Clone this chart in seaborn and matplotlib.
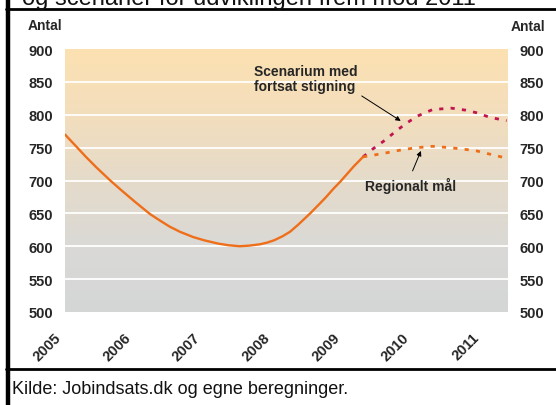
import numpy as np
import pandas as pd
import matplotlib
matplotlib.use("Agg")
import matplotlib.pyplot as plt
import matplotlib.transforms as mtransforms
from matplotlib.colors import LinearSegmentedColormap
from matplotlib.lines import Line2D
import seaborn as sns

# ---------------- data ----------------
actual_x = [2005.0, 2005.15, 2005.3, 2005.45, 2005.65, 2005.8, 2006.0, 2006.22,
            2006.35, 2006.5, 2006.65, 2006.84, 2007.0, 2007.2, 2007.35, 2007.51,
            2007.65, 2007.8, 2007.9, 2008.0, 2008.12, 2008.23, 2008.35, 2008.52,
            2008.65, 2008.75, 2008.85, 2008.95, 2009.05, 2009.15, 2009.28]
actual_y = [770, 753, 736, 720, 700, 686, 668, 649,
            640, 630, 622, 614, 609, 604, 601.5, 600,
            601, 603, 605.5, 609, 615, 622, 633, 650,
            664, 675, 687, 698, 710, 722, 736]

scen_x = [2009.28, 2009.42, 2009.59, 2009.75, 2009.9, 2010.06, 2010.28, 2010.55,
          2010.75, 2010.91, 2011.1, 2011.34]
scen_y = [736, 748, 761, 775, 787, 798, 808, 810, 807, 803, 796, 791]

reg_x = [2009.28, 2009.45, 2009.66, 2009.85, 2010.06, 2010.28, 2010.52, 2010.77,
         2010.91, 2011.14, 2011.34]
reg_y = [736, 739, 743, 747, 750, 752, 750, 747, 745, 739, 734]

year_ticks = [2005, 2006, 2007, 2008, 2009, 2010, 2011]
year_labels = ["2005", "2006", "2007", "2008", "2009", "2010", "2011"]
y_ticks = [500, 550, 600, 650, 700, 750, 800, 850, 900]
grid_vals = [550, 600, 650, 700, 750, 800, 850]

title_text = "og scenarier for udviklingen frem mod 2011"
source_text = "Kilde: Jobindsats.dk og egne beregninger."
unit_label = "Antal"
scen_label = "Scenarium med\nfortsat stigning"
reg_label = "Regionalt mål"

# ---------------- style ----------------
sns.set_style("white")
plt.rcParams["font.family"] = ["Liberation Sans", "DejaVu Sans"]

W, H = 556, 406
fig = plt.figure(figsize=(W / 100, H / 100), dpi=100)
fig.patch.set_facecolor("white")
ax = fig.add_axes([65 / W, 1 - 313 / H, (508 - 65) / W, (313 - 50) / H])

XMIN, XMAX = 2005.0, 2011.36
YMIN, YMAX = 500, 900

# background gradient
cmap = LinearSegmentedColormap.from_list(
    "bg", [(0.0, "#D4D6D7"), (0.25, "#DAD9D6"), (0.5, "#E5DBCA"),
           (0.75, "#F3DEBD"), (1.0, "#FCE1B1")])
grad = np.linspace(0, 1, 256).reshape(-1, 1)
ax.imshow(grad, extent=[XMIN, XMAX, YMIN, YMAX], origin="lower",
          aspect="auto", cmap=cmap, zorder=0, interpolation="bicubic")

for g in grid_vals:
    ax.axhline(g, color="white", lw=1.3, zorder=1)

orange = "#EE6E1A"
crimson = "#C0154E"

df_a = pd.DataFrame({"x": actual_x, "y": actual_y})
df_s = pd.DataFrame({"x": scen_x, "y": scen_y})
df_r = pd.DataFrame({"x": reg_x, "y": reg_y})

sns.lineplot(data=df_a, x="x", y="y", ax=ax, color=orange, lw=1.7,
             zorder=3, sort=False)
sns.lineplot(data=df_s, x="x", y="y", ax=ax, color=crimson, lw=2.0,
             linestyle=(0, (1.5, 2.6)), zorder=3, sort=False)
sns.lineplot(data=df_r, x="x", y="y", ax=ax, color=orange, lw=2.0,
             linestyle=(0, (1.5, 2.6)), zorder=3, sort=False)

ax.set_xlim(XMIN, XMAX)
ax.set_ylim(YMIN, YMAX)
for s in ax.spines.values():
    s.set_visible(False)
ax.set_xlabel("")
ax.set_ylabel("")

ax.set_yticks(y_ticks)
ax.set_yticklabels([str(v) for v in y_ticks], fontweight="bold", fontsize=10.5)
ax.tick_params(axis="y", left=False, right=False, labelleft=True,
               labelright=True, length=0, pad=8.5)

ax.set_xticks(year_ticks)
ax.set_xticklabels(year_labels, fontweight="bold", fontsize=10.5,
                   rotation=45, ha="right", rotation_mode="anchor")
ax.tick_params(axis="x", bottom=False, length=0, pad=13)
offset = mtransforms.ScaledTranslation(-11 / 100, 0, fig.dpi_scale_trans)
for lbl in ax.get_xticklabels():
    lbl.set_transform(lbl.get_transform() + offset)

# annotations
ax.text(2007.71, 877, scen_label, fontsize=10, fontweight="bold",
        ha="left", va="top", linespacing=1.1, zorder=5)
ax.annotate("", xy=(2009.82, 790.6), xytext=(2009.26, 828.6),
            arrowprops=dict(arrowstyle="-|>", color="black", lw=0.7,
                            mutation_scale=7, shrinkA=0, shrinkB=0), zorder=5)
ax.text(2009.30, 693, reg_label, fontsize=10, fontweight="bold",
        ha="left", va="center", zorder=5)
ax.annotate("", xy=(2010.11, 745), xytext=(2009.99, 714.6),
            arrowprops=dict(arrowstyle="-|>", color="black", lw=0.7,
                            mutation_scale=7, shrinkA=0, shrinkB=0), zorder=5)

# figure texts
fig.text(28 / W, 1 - 26 / H, unit_label, fontsize=10, fontweight="bold",
         ha="left", va="center")
fig.text(511 / W, 1 - 27 / H, unit_label, fontsize=10, fontweight="bold",
         ha="left", va="center")
fig.text(22 / W, 1 - 5 / H, title_text, fontsize=17, ha="left",
         va="baseline", color="#111111")
fig.text(12 / W, 1 - 394 / H, source_text, fontsize=13, ha="left",
         va="baseline", color="#111111")

# frame lines
fig.add_artist(Line2D([8 / W, 8 / W], [0, 1], transform=fig.transFigure,
                      color="black", lw=3.2))
fig.add_artist(Line2D([6 / W, 1], [1 - 10 / H, 1 - 10 / H],
                      transform=fig.transFigure, color="black", lw=2.0))
fig.add_artist(Line2D([6 / W, 1], [1 - 370 / H, 1 - 370 / H],
                      transform=fig.transFigure, color="black", lw=2.0))

fig.savefig("out.png", dpi=100, facecolor="white")
